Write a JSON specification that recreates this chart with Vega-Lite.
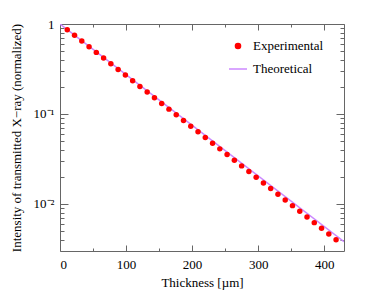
{
  "$schema": "https://vega.github.io/schema/vega-lite/v6.json",
  "autosize": {"type": "none"},
  "width": 284,
  "height": 227,
  "padding": {"left": 60, "top": 24, "right": 30, "bottom": 45},
  "background": "white",
  "config": {
    "font": "Liberation Serif",
    "view": {"stroke": null},
    "axis": {"grid": false, "domainColor": "#666666", "tickColor": "#666666", "labelFont": "Liberation Serif", "titleFont": "Liberation Serif", "labelFontSize": 13, "titleFontSize": 13, "titleFontWeight": "normal", "labelColor": "black", "titleColor": "black"}
  },
  "datasets": {
    "exp": [
      {"t": 11, "i": 0.8648, "s": "Experimental"},
      {"t": 22, "i": 0.7479, "s": "Experimental"},
      {"t": 33, "i": 0.6468, "s": "Experimental"},
      {"t": 44, "i": 0.5593, "s": "Experimental"},
      {"t": 55, "i": 0.4837, "s": "Experimental"},
      {"t": 66, "i": 0.4183, "s": "Experimental"},
      {"t": 77, "i": 0.3618, "s": "Experimental"},
      {"t": 88, "i": 0.3129, "s": "Experimental"},
      {"t": 99, "i": 0.2706, "s": "Experimental"},
      {"t": 110, "i": 0.2340, "s": "Experimental"},
      {"t": 121, "i": 0.2024, "s": "Experimental"},
      {"t": 132, "i": 0.1750, "s": "Experimental"},
      {"t": 143, "i": 0.1513, "s": "Experimental"},
      {"t": 154, "i": 0.1309, "s": "Experimental"},
      {"t": 165, "i": 0.1132, "s": "Experimental"},
      {"t": 176, "i": 0.0979, "s": "Experimental"},
      {"t": 187, "i": 0.08466, "s": "Experimental"},
      {"t": 198, "i": 0.07321, "s": "Experimental"},
      {"t": 209, "i": 0.06332, "s": "Experimental"},
      {"t": 220, "i": 0.05476, "s": "Experimental"},
      {"t": 231, "i": 0.04735, "s": "Experimental"},
      {"t": 242, "i": 0.04095, "s": "Experimental"},
      {"t": 253, "i": 0.03541, "s": "Experimental"},
      {"t": 264, "i": 0.03063, "s": "Experimental"},
      {"t": 275, "i": 0.02649, "s": "Experimental"},
      {"t": 286, "i": 0.02291, "s": "Experimental"},
      {"t": 297, "i": 0.01981, "s": "Experimental"},
      {"t": 308, "i": 0.01713, "s": "Experimental"},
      {"t": 319, "i": 0.01481, "s": "Experimental"},
      {"t": 330, "i": 0.01281, "s": "Experimental"},
      {"t": 341, "i": 0.01108, "s": "Experimental"},
      {"t": 352, "i": 0.00958, "s": "Experimental"},
      {"t": 363, "i": 0.00829, "s": "Experimental"},
      {"t": 374, "i": 0.00717, "s": "Experimental"},
      {"t": 385, "i": 0.00620, "s": "Experimental"},
      {"t": 396, "i": 0.00536, "s": "Experimental"},
      {"t": 407, "i": 0.00463, "s": "Experimental"},
      {"t": 418, "i": 0.00401, "s": "Experimental"}
    ],
    "theo": [
      {"t": 0, "i": 1.0, "s": "Theoretical"},
      {"t": 430, "i": 0.00381, "s": "Theoretical"}
    ]
  },
  "layer": [
    {
      "data": {"name": "theo"},
      "mark": {"type": "line", "strokeWidth": 1.5, "clip": true},
      "encoding": {
        "x": {"field": "t", "type": "quantitative", "scale": {"domain": [0, 430], "nice": false, "zero": false},
          "axis": {"orient": "top", "title": null, "labels": false, "values": [0, 50, 100, 150, 200, 250, 300, 350, 400], "tickSize": {"condition": {"test": "datum.value % 100 === 0", "value": -6}, "value": -3}}},
        "y": {"field": "i", "type": "quantitative", "scale": {"type": "log", "domain": [0.003, 1], "nice": false},
          "axis": {"orient": "right", "title": null, "labels": false, "values": [1, 0.9, 0.8, 0.7, 0.6, 0.5, 0.4, 0.3, 0.2, 0.1, 0.09, 0.08, 0.07, 0.06, 0.05, 0.04, 0.03, 0.02, 0.01, 0.009, 0.008, 0.007, 0.006, 0.005, 0.004], "tickSize": {"condition": {"test": "datum.value === 1 || datum.value === 0.1 || datum.value === 0.01", "value": -8}, "value": -4}}},
        "color": {"field": "s", "type": "nominal", "scale": {"domain": ["Experimental", "Theoretical"], "range": ["#ff0000", "#cc88ff"]},
          "legend": {"orient": "none", "legendX": 168, "legendY": 12, "title": null, "labelFont": "Liberation Serif", "labelFontSize": 13, "labelColor": "black", "rowPadding": 6, "symbolSize": 324, "labelOffset": 5,
            "encode": {"symbols": {"update": {
              "shape": {"signal": "datum.value === 'Experimental' ? 'circle' : 'stroke'"},
              "size": {"signal": "datum.value === 'Experimental' ? 26 : 324"},
              "fill": {"signal": "datum.value === 'Experimental' ? '#ff0000' : 'transparent'"},
              "stroke": {"signal": "datum.value === 'Experimental' ? 'transparent' : '#cc88ff'"},
              "strokeWidth": {"value": 1.5}
            }}}}}
      }
    },
    {
      "data": {"name": "exp"},
      "mark": {"type": "point", "filled": true, "size": 30, "opacity": 1},
      "encoding": {
        "x": {"field": "t", "type": "quantitative", "title": "Thickness [µm]",
          "axis": {"orient": "bottom", "values": [0, 50, 100, 150, 200, 250, 300, 350, 400], "labelExpr": "datum.value % 100 === 0 ? datum.label : ''", "tickSize": {"condition": {"test": "datum.value % 100 === 0", "value": -6}, "value": -3}, "labelPadding": 13, "titlePadding": 5}},
        "y": {"field": "i", "type": "quantitative", "title": "Intensity of transmitted X−ray (normalized)",
          "axis": {"orient": "left", "values": [1, 0.9, 0.8, 0.7, 0.6, 0.5, 0.4, 0.3, 0.2, 0.1, 0.09, 0.08, 0.07, 0.06, 0.05, 0.04, 0.03, 0.02, 0.01, 0.009, 0.008, 0.007, 0.006, 0.005, 0.004], "labelExpr": "datum.value === 1 ? '1' : datum.value === 0.1 ? '10⁻¹' : datum.value === 0.01 ? '10⁻²' : ''", "tickSize": {"condition": {"test": "datum.value === 1 || datum.value === 0.1 || datum.value === 0.01", "value": -8}, "value": -4}, "labelPadding": 14, "titlePadding": 10}},
        "color": {"field": "s", "type": "nominal"}
      }
    }
  ],
  "resolve": {"axis": {"x": "independent", "y": "independent"}}
}
